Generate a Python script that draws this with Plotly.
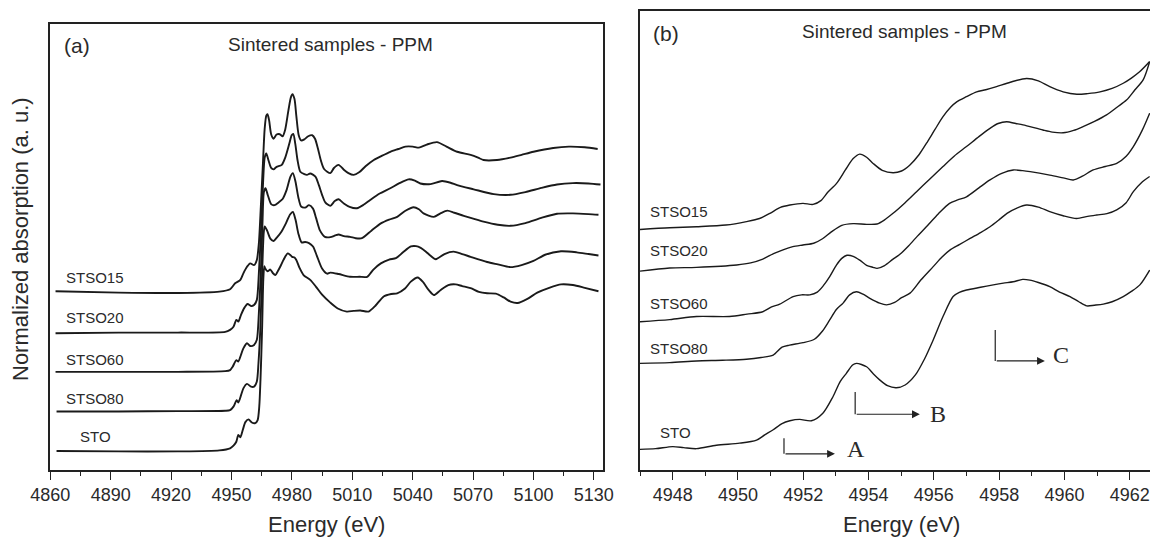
import plotly.graph_objects as go

# ---------------- Panel (a): full XANES/EXAFS range ----------------
E_STSO15_a = [4862.6, 4893.9, 4923.4, 4944.0, 4949.3, 4951.8, 4954.4, 4955.9, 4957.7, 4959.3, 4961.2, 4962.6, 4963.6, 4964.6, 4965.6, 4966.5, 4967.3, 4967.9, 4968.7, 4969.7, 4970.9, 4972.4, 4974.0, 4975.4, 4976.7, 4978.3, 4979.5, 4980.3, 4981.3, 4982.2, 4983.4, 4984.6, 4986.2, 4988.1, 4990.1, 4991.5, 4993.0, 4994.4, 4996.0, 4999.1, 5000.9, 5003.2, 5005.8, 5008.1, 5010.7, 5013.6, 5016.6, 5020.7, 5024.6, 5028.9, 5032.9, 5036.4, 5040.1, 5043.1, 5047.0, 5052.1, 5056.8, 5062.1, 5068.8, 5072.5, 5075.2, 5081.9, 5088.6, 5094.1, 5100.0, 5109.8, 5117.6, 5125.5, 5131.9]
A_STSO15_a = [5.19, 5.15, 5.14, 5.18, 5.25, 5.42, 5.52, 5.71, 5.90, 6.00, 5.95, 6.10, 6.58, 7.67, 8.87, 9.92, 10.29, 10.33, 10.15, 9.75, 9.62, 9.74, 9.75, 9.69, 9.89, 10.45, 10.82, 10.91, 10.77, 10.29, 9.72, 9.57, 9.60, 9.69, 9.72, 9.62, 9.32, 8.99, 8.74, 8.62, 8.77, 8.86, 8.72, 8.62, 8.57, 8.65, 8.82, 9.00, 9.12, 9.24, 9.32, 9.39, 9.39, 9.36, 9.45, 9.52, 9.39, 9.24, 9.15, 9.07, 9.00, 9.00, 9.07, 9.15, 9.24, 9.35, 9.39, 9.37, 9.32]

E_STSO20_a = [4862.6, 4893.9, 4923.4, 4946.9, 4949.3, 4951.0, 4952.4, 4953.4, 4954.7, 4956.3, 4958.0, 4959.7, 4961.2, 4962.6, 4963.6, 4964.6, 4965.6, 4966.5, 4967.3, 4968.5, 4969.7, 4970.9, 4972.4, 4975.0, 4976.7, 4978.7, 4979.9, 4980.7, 4981.7, 4982.8, 4984.2, 4986.2, 4987.5, 4989.1, 4991.7, 4993.4, 4995.0, 4996.6, 4999.1, 5001.3, 5003.2, 5005.8, 5008.7, 5012.3, 5015.6, 5018.9, 5023.4, 5028.9, 5033.2, 5038.0, 5041.1, 5043.8, 5048.9, 5054.6, 5058.8, 5062.1, 5070.3, 5080.3, 5088.6, 5096.0, 5103.9, 5111.7, 5119.6, 5127.4, 5133.3]
A_STSO20_a = [3.97, 3.99, 3.99, 4.01, 4.07, 4.16, 4.36, 4.31, 4.50, 4.70, 4.82, 4.76, 4.79, 4.94, 5.71, 6.87, 8.22, 9.07, 9.19, 8.97, 8.77, 8.73, 8.80, 8.86, 9.07, 9.47, 9.72, 9.76, 9.47, 9.00, 8.66, 8.59, 8.57, 8.61, 8.52, 8.27, 7.99, 7.77, 7.67, 7.81, 7.86, 7.74, 7.64, 7.60, 7.70, 7.84, 8.02, 8.18, 8.32, 8.44, 8.40, 8.32, 8.30, 8.39, 8.34, 8.27, 8.15, 8.01, 7.99, 8.07, 8.19, 8.29, 8.33, 8.32, 8.29]

E_STSO60_a = [4862.6, 4893.9, 4923.4, 4946.9, 4949.3, 4950.6, 4952.4, 4953.4, 4954.7, 4955.9, 4957.7, 4959.3, 4961.2, 4962.6, 4963.6, 4964.6, 4965.4, 4966.1, 4966.9, 4968.1, 4969.7, 4971.4, 4973.4, 4975.4, 4977.3, 4979.3, 4980.5, 4981.8, 4983.2, 4984.6, 4986.6, 4988.5, 4990.5, 4992.0, 4994.0, 4996.4, 4999.1, 5001.5, 5003.2, 5005.8, 5008.9, 5011.7, 5014.8, 5019.5, 5024.2, 5028.3, 5032.3, 5036.2, 5040.5, 5043.1, 5045.4, 5050.5, 5053.8, 5057.2, 5060.7, 5065.4, 5070.5, 5075.2, 5082.3, 5088.6, 5096.0, 5103.9, 5111.7, 5119.6, 5127.4, 5132.3]
A_STSO60_a = [2.85, 2.85, 2.85, 2.87, 2.90, 3.00, 3.19, 3.15, 3.34, 3.53, 3.68, 3.60, 3.63, 3.78, 4.55, 5.77, 7.17, 8.07, 8.18, 7.97, 7.72, 7.69, 7.77, 7.87, 8.12, 8.52, 8.62, 8.37, 7.92, 7.65, 7.62, 7.69, 7.59, 7.32, 6.95, 6.77, 6.76, 6.81, 6.84, 6.79, 6.77, 6.73, 6.73, 6.95, 7.16, 7.27, 7.35, 7.52, 7.63, 7.57, 7.45, 7.35, 7.45, 7.53, 7.47, 7.38, 7.29, 7.21, 7.12, 7.09, 7.17, 7.32, 7.44, 7.45, 7.43, 7.41]

E_STSO80_a = [4863.1, 4893.9, 4923.4, 4946.9, 4949.3, 4951.0, 4952.6, 4953.4, 4954.8, 4955.9, 4957.7, 4959.7, 4961.2, 4962.6, 4963.4, 4964.3, 4965.2, 4966.0, 4966.5, 4967.7, 4969.3, 4970.9, 4972.4, 4974.8, 4977.1, 4979.1, 4980.5, 4981.8, 4983.2, 4984.8, 4986.6, 4988.5, 4990.5, 4992.4, 4995.0, 4997.5, 4999.1, 5003.2, 5008.9, 5013.6, 5017.4, 5020.5, 5024.2, 5028.3, 5031.7, 5035.2, 5039.1, 5041.7, 5044.0, 5046.6, 5048.9, 5051.5, 5055.8, 5060.3, 5064.6, 5068.8, 5077.0, 5082.3, 5088.6, 5094.1, 5100.0, 5105.8, 5113.7, 5121.5, 5127.4, 5132.3]
A_STSO80_a = [1.70, 1.70, 1.71, 1.72, 1.74, 1.84, 2.03, 1.96, 2.18, 2.37, 2.50, 2.42, 2.42, 2.57, 3.10, 4.07, 5.67, 6.87, 7.07, 6.95, 6.72, 6.65, 6.74, 6.92, 7.17, 7.42, 7.49, 7.27, 6.87, 6.61, 6.62, 6.59, 6.49, 6.22, 5.85, 5.70, 5.73, 5.69, 5.61, 5.61, 5.61, 5.82, 6.00, 6.11, 6.15, 6.32, 6.49, 6.50, 6.45, 6.34, 6.22, 6.12, 6.27, 6.34, 6.27, 6.19, 6.04, 5.97, 5.89, 5.95, 6.07, 6.25, 6.35, 6.32, 6.27, 6.23]

E_STO_a = [4863.1, 4893.9, 4923.4, 4944.0, 4949.3, 4951.0, 4952.4, 4953.4, 4954.4, 4955.7, 4956.9, 4958.5, 4960.1, 4961.8, 4963.0, 4963.8, 4964.4, 4965.2, 4965.8, 4966.3, 4966.7, 4967.9, 4969.3, 4970.5, 4971.8, 4973.0, 4974.2, 4976.0, 4977.9, 4979.1, 4980.1, 4981.3, 4982.2, 4983.8, 4985.8, 4989.1, 4992.0, 4995.0, 4999.1, 5002.8, 5007.3, 5010.7, 5014.0, 5018.1, 5021.5, 5025.6, 5029.3, 5032.3, 5036.2, 5039.1, 5042.5, 5045.0, 5048.0, 5050.5, 5053.8, 5057.7, 5061.3, 5064.6, 5068.8, 5072.9, 5077.0, 5081.3, 5085.2, 5088.6, 5092.1, 5097.0, 5101.9, 5107.8, 5113.7, 5119.6, 5125.5, 5132.3]
A_STO_a = [0.55, 0.54, 0.54, 0.57, 0.63, 0.71, 0.82, 1.02, 0.95, 1.18, 1.39, 1.47, 1.38, 1.36, 1.45, 1.84, 2.61, 4.07, 5.52, 5.92, 5.86, 5.77, 5.82, 5.72, 5.66, 5.77, 5.90, 6.12, 6.29, 6.25, 6.19, 6.17, 6.10, 5.87, 5.66, 5.52, 5.32, 5.09, 4.86, 4.69, 4.60, 4.62, 4.63, 4.60, 4.77, 5.04, 5.11, 5.13, 5.27, 5.47, 5.59, 5.47, 5.22, 5.08, 5.22, 5.37, 5.39, 5.34, 5.28, 5.17, 5.13, 5.12, 5.01, 4.89, 4.85, 4.97, 5.15, 5.29, 5.39, 5.37, 5.29, 5.19]

# ---------------- Panel (b): pre-edge zoom ----------------
E_STSO15_b = [4947.00, 4947.91, 4948.73, 4949.63, 4950.26, 4950.66, 4950.98, 4951.30, 4951.59, 4951.99, 4952.30, 4952.54, 4952.75, 4953.02, 4953.29, 4953.53, 4953.73, 4953.94, 4954.14, 4954.42, 4954.75, 4955.01, 4955.26, 4955.55, 4955.77, 4956.03, 4956.28, 4956.52, 4956.70, 4957.00, 4957.31, 4957.59, 4957.92, 4958.34, 4958.84, 4959.20, 4959.55, 4959.96, 4960.38, 4960.71, 4961.09, 4961.46, 4961.80, 4962.05, 4962.31, 4962.61]
A_STSO15_b = [6.99, 7.04, 7.07, 7.12, 7.22, 7.31, 7.46, 7.63, 7.70, 7.75, 7.72, 7.83, 8.07, 8.33, 8.72, 9.05, 9.18, 9.09, 8.91, 8.71, 8.64, 8.69, 8.86, 9.17, 9.49, 9.89, 10.27, 10.55, 10.70, 10.85, 10.99, 11.05, 11.14, 11.27, 11.38, 11.31, 11.14, 10.99, 10.92, 10.94, 10.99, 11.09, 11.24, 11.39, 11.58, 11.87]

E_STSO20_b = [4947.00, 4947.91, 4948.73, 4949.96, 4950.39, 4950.76, 4951.09, 4951.38, 4951.68, 4951.99, 4952.32, 4952.59, 4952.86, 4953.18, 4953.53, 4953.94, 4954.26, 4954.49, 4954.75, 4955.12, 4955.47, 4955.87, 4956.28, 4956.62, 4957.00, 4957.38, 4957.72, 4957.97, 4958.23, 4958.51, 4958.73, 4959.34, 4959.63, 4959.96, 4960.28, 4960.57, 4960.92, 4961.29, 4961.62, 4961.90, 4962.16, 4962.41, 4962.61]
A_STSO20_b = [5.78, 5.87, 5.89, 5.96, 6.02, 6.13, 6.29, 6.40, 6.49, 6.54, 6.59, 6.72, 6.92, 7.11, 7.16, 7.14, 7.15, 7.27, 7.46, 7.77, 8.09, 8.45, 8.82, 9.12, 9.40, 9.69, 9.93, 10.07, 10.12, 10.07, 10.03, 9.88, 9.82, 9.80, 9.87, 9.98, 10.13, 10.32, 10.55, 10.75, 11.05, 11.34, 11.87]

E_STSO60_b = [4947.00, 4947.91, 4948.73, 4949.74, 4950.28, 4950.76, 4951.03, 4951.28, 4951.69, 4951.95, 4952.20, 4952.43, 4952.61, 4952.81, 4953.02, 4953.18, 4953.34, 4953.53, 4953.73, 4953.94, 4954.14, 4954.26, 4954.49, 4954.74, 4954.96, 4955.23, 4955.49, 4955.77, 4956.14, 4956.48, 4956.73, 4957.00, 4957.38, 4957.72, 4958.08, 4958.43, 4958.72, 4958.95, 4959.55, 4959.96, 4960.27, 4960.55, 4960.88, 4961.25, 4961.60, 4961.89, 4962.11, 4962.38, 4962.61]
A_STSO60_b = [4.31, 4.37, 4.46, 4.46, 4.53, 4.60, 4.74, 4.82, 5.04, 5.09, 5.09, 5.17, 5.35, 5.62, 5.96, 6.15, 6.24, 6.21, 6.10, 5.95, 5.89, 5.86, 5.94, 6.12, 6.27, 6.52, 6.79, 7.07, 7.45, 7.75, 7.85, 7.94, 8.20, 8.43, 8.62, 8.72, 8.70, 8.67, 8.57, 8.49, 8.43, 8.54, 8.72, 8.82, 8.91, 9.12, 9.40, 9.87, 10.37]

E_STSO80_b = [4946.99, 4947.91, 4948.73, 4949.53, 4950.26, 4950.71, 4951.08, 4951.35, 4951.58, 4951.99, 4952.34, 4952.59, 4952.81, 4953.02, 4953.22, 4953.42, 4953.63, 4953.83, 4954.04, 4954.34, 4954.55, 4954.80, 4955.01, 4955.27, 4955.60, 4955.98, 4956.25, 4956.49, 4956.78, 4957.11, 4957.43, 4957.72, 4958.02, 4958.24, 4958.56, 4958.84, 4959.20, 4959.55, 4959.96, 4960.37, 4960.71, 4960.99, 4961.30, 4961.60, 4961.89, 4962.11, 4962.38, 4962.61]
A_STSO80_b = [3.10, 3.12, 3.17, 3.19, 3.22, 3.27, 3.34, 3.57, 3.63, 3.70, 3.80, 4.04, 4.36, 4.67, 4.85, 5.09, 5.18, 5.11, 4.99, 4.85, 4.80, 4.87, 5.01, 5.14, 5.52, 5.91, 6.19, 6.39, 6.55, 6.73, 6.90, 7.07, 7.29, 7.46, 7.62, 7.70, 7.64, 7.51, 7.39, 7.31, 7.37, 7.41, 7.45, 7.56, 7.77, 8.09, 8.37, 8.53]

E_STO_b = [4946.99, 4947.48, 4948.00, 4948.34, 4948.73, 4949.34, 4950.05, 4950.57, 4950.82, 4951.08, 4951.35, 4951.59, 4951.89, 4952.25, 4952.60, 4952.91, 4953.13, 4953.32, 4953.51, 4953.63, 4953.94, 4954.15, 4954.34, 4954.58, 4954.85, 4955.12, 4955.44, 4955.71, 4955.98, 4956.28, 4956.59, 4956.78, 4957.00, 4957.43, 4957.82, 4958.13, 4958.43, 4958.72, 4958.94, 4959.20, 4959.55, 4959.85, 4960.17, 4960.44, 4960.68, 4960.92, 4961.19, 4961.46, 4961.80, 4962.05, 4962.31, 4962.61]
A_STO_b = [0.60, 0.62, 0.68, 0.65, 0.62, 0.72, 0.78, 0.87, 1.02, 1.17, 1.35, 1.43, 1.47, 1.43, 1.65, 2.13, 2.57, 2.81, 3.05, 3.10, 3.00, 2.79, 2.62, 2.45, 2.39, 2.47, 2.77, 3.22, 3.78, 4.46, 5.04, 5.16, 5.23, 5.31, 5.38, 5.43, 5.47, 5.54, 5.52, 5.45, 5.33, 5.17, 5.04, 4.89, 4.77, 4.79, 4.82, 4.89, 5.04, 5.19, 5.38, 5.81]

# Sample labels and their vertical positions
sample_names = ["STSO15", "STSO20", "STSO60", "STSO80", "STO"]
label_y_a = [5.59, 4.42, 3.22, 2.07, 0.97]
label_y_b = [7.52, 6.37, 4.85, 3.52, 1.09]

# Feature markers A, B, C in panel (b)
feature_names = ["A", "B", "C"]
feat_x0 = [4951.41, 4953.59, 4957.88]
feat_ytop = [0.92, 2.27, 4.07]
feat_y = [0.47, 1.62, 3.17]
feat_x1 = [4952.97, 4955.57, 4959.40]
feat_tx = [4953.62, 4956.12, 4959.88]
feat_ty = [0.60, 1.62, 3.35]

# ---------------- Figure ----------------
W, H = 1150, 538
FONT = "Liberation Sans, Arial, sans-serif"
TXT = "#2a2a2a"
LINE = "#1a1a1a"

fig = go.Figure()
series_a = [(E_STSO15_a, A_STSO15_a), (E_STSO20_a, A_STSO20_a), (E_STSO60_a, A_STSO60_a),
            (E_STSO80_a, A_STSO80_a), (E_STO_a, A_STO_a)]
series_b = [(E_STSO15_b, A_STSO15_b), (E_STSO20_b, A_STSO20_b), (E_STSO60_b, A_STSO60_b),
            (E_STSO80_b, A_STSO80_b), (E_STO_b, A_STO_b)]
for name, (ex, ay) in zip(sample_names, series_a):
    fig.add_trace(go.Scatter(x=ex, y=ay, mode="lines", name=name, xaxis="x", yaxis="y",
                             line=dict(color=LINE, width=1.9, shape="spline", smoothing=0.7),
                             showlegend=False, hoverinfo="skip"))
for name, (ex, ay) in zip(sample_names, series_b):
    fig.add_trace(go.Scatter(x=ex, y=ay, mode="lines", name=name, xaxis="x2", yaxis="y2",
                             line=dict(color=LINE, width=1.4, shape="spline", smoothing=0.8),
                             showlegend=False, hoverinfo="skip"))

def px_x(p):
    return p / W

def px_y(p):
    return 1 - p / H

axis_common = dict(showline=True, linecolor="#222", linewidth=1.5, showgrid=False, zeroline=False,
                   ticks="outside", ticklen=8, tickwidth=1.3, tickcolor="#222", automargin=False,
                   tickfont=dict(family=FONT, size=18, color=TXT))

fig.update_layout(
    template="none",
    width=W, height=H, margin=dict(l=0, r=0, t=0, b=0, pad=0), autosize=False,
    paper_bgcolor="white", plot_bgcolor="white", showlegend=False,
    xaxis=dict(domain=[px_x(50.3), px_x(603.3)], range=[4860, 5134.7], anchor="y",
               tickmode="linear", tick0=4860, dtick=30, mirror=True,
               minor=dict(ticks="outside", ticklen=4, tickwidth=1.3, tickcolor="#222", dtick=15, tick0=4860),
               **axis_common),
    yaxis=dict(domain=[px_y(470), px_y(24)], range=[0, 12.95], anchor="x", automargin=False,
               showline=True, linecolor="#222", linewidth=1.5, mirror=True,
               showgrid=False, zeroline=False, showticklabels=False, ticks=""),
    xaxis2=dict(domain=[px_x(640), 1.0], range=[4947.0, 4962.62], anchor="y2",
                tickmode="linear", tick0=4948, dtick=2, mirror=True,
                minor=dict(ticks="outside", ticklen=4, tickwidth=1.3, tickcolor="#222", dtick=1, tick0=4948),
                **axis_common),
    yaxis2=dict(domain=[px_y(470), px_y(11)], range=[0, 13.34], anchor="x2", automargin=False,
                showline=True, linecolor="#222", linewidth=1.5, mirror=False,
                showgrid=False, zeroline=False, showticklabels=False, ticks=""),
)

ann = []
for name, yv in zip(sample_names, label_y_a):
    ann.append(dict(x=4882.4, y=yv, xref="x", yref="y", text=name, showarrow=False,
                    font=dict(family=FONT, size=15, color=TXT), xanchor="center", yanchor="middle"))
for name, yv in zip(sample_names, label_y_b):
    if name == "STO":
        ann.append(dict(x=4948.08, y=yv, xref="x2", yref="y2", text=name, showarrow=False,
                        font=dict(family=FONT, size=15, color=TXT), xanchor="center", yanchor="middle"))
    else:
        ann.append(dict(x=4947.25, y=yv, xref="x2", yref="y2", text=name, showarrow=False,
                        font=dict(family=FONT, size=15, color=TXT), xanchor="left", yanchor="middle"))

ann.append(dict(x=px_x(77), y=px_y(46), xref="paper", yref="paper", text="(a)", showarrow=False,
                font=dict(family=FONT, size=21, color=TXT), xanchor="center", yanchor="middle"))
ann.append(dict(x=px_x(666), y=px_y(33), xref="paper", yref="paper", text="(b)", showarrow=False,
                font=dict(family=FONT, size=21, color=TXT), xanchor="center", yanchor="middle"))
ann.append(dict(x=px_x(330), y=px_y(44), xref="paper", yref="paper", text="Sintered samples - PPM",
                showarrow=False, font=dict(family=FONT, size=19, color=TXT), xanchor="center", yanchor="middle"))
ann.append(dict(x=px_x(904), y=px_y(31), xref="paper", yref="paper", text="Sintered samples - PPM",
                showarrow=False, font=dict(family=FONT, size=19, color=TXT), xanchor="center", yanchor="middle"))
ann.append(dict(x=px_x(326), y=px_y(524), xref="paper", yref="paper", text="Energy (eV)", showarrow=False,
                font=dict(family=FONT, size=22, color=TXT), xanchor="center", yanchor="middle"))
ann.append(dict(x=px_x(901), y=px_y(524), xref="paper", yref="paper", text="Energy (eV)", showarrow=False,
                font=dict(family=FONT, size=22, color=TXT), xanchor="center", yanchor="middle"))
ann.append(dict(x=px_x(21), y=px_y(239), xref="paper", yref="paper", text="Normalized absorption (a. u.)",
                showarrow=False, textangle=-90, font=dict(family=FONT, size=22, color=TXT),
                xanchor="center", yanchor="middle"))

shapes = []
for nm, x0, yt, yc, x1, tx, ty in zip(feature_names, feat_x0, feat_ytop, feat_y, feat_x1, feat_tx, feat_ty):
    shapes.append(dict(type="line", xref="x2", yref="y2", x0=x0, x1=x0, y0=yt, y1=yc,
                       line=dict(color="#222", width=1.2)))
    ann.append(dict(x=x1, y=yc, ax=x0, ay=yc, xref="x2", yref="y2", axref="x2", ayref="y2",
                    showarrow=True, arrowhead=2, arrowsize=1.3, arrowwidth=1.2, arrowcolor="#222", text=""))
    ann.append(dict(x=tx, y=ty, xref="x2", yref="y2", text=nm, showarrow=False,
                    font=dict(family="Liberation Serif, Times New Roman, serif", size=24, color=TXT),
                    xanchor="center", yanchor="middle"))

fig.update_layout(annotations=ann, shapes=shapes)
fig.write_html("out.html")
